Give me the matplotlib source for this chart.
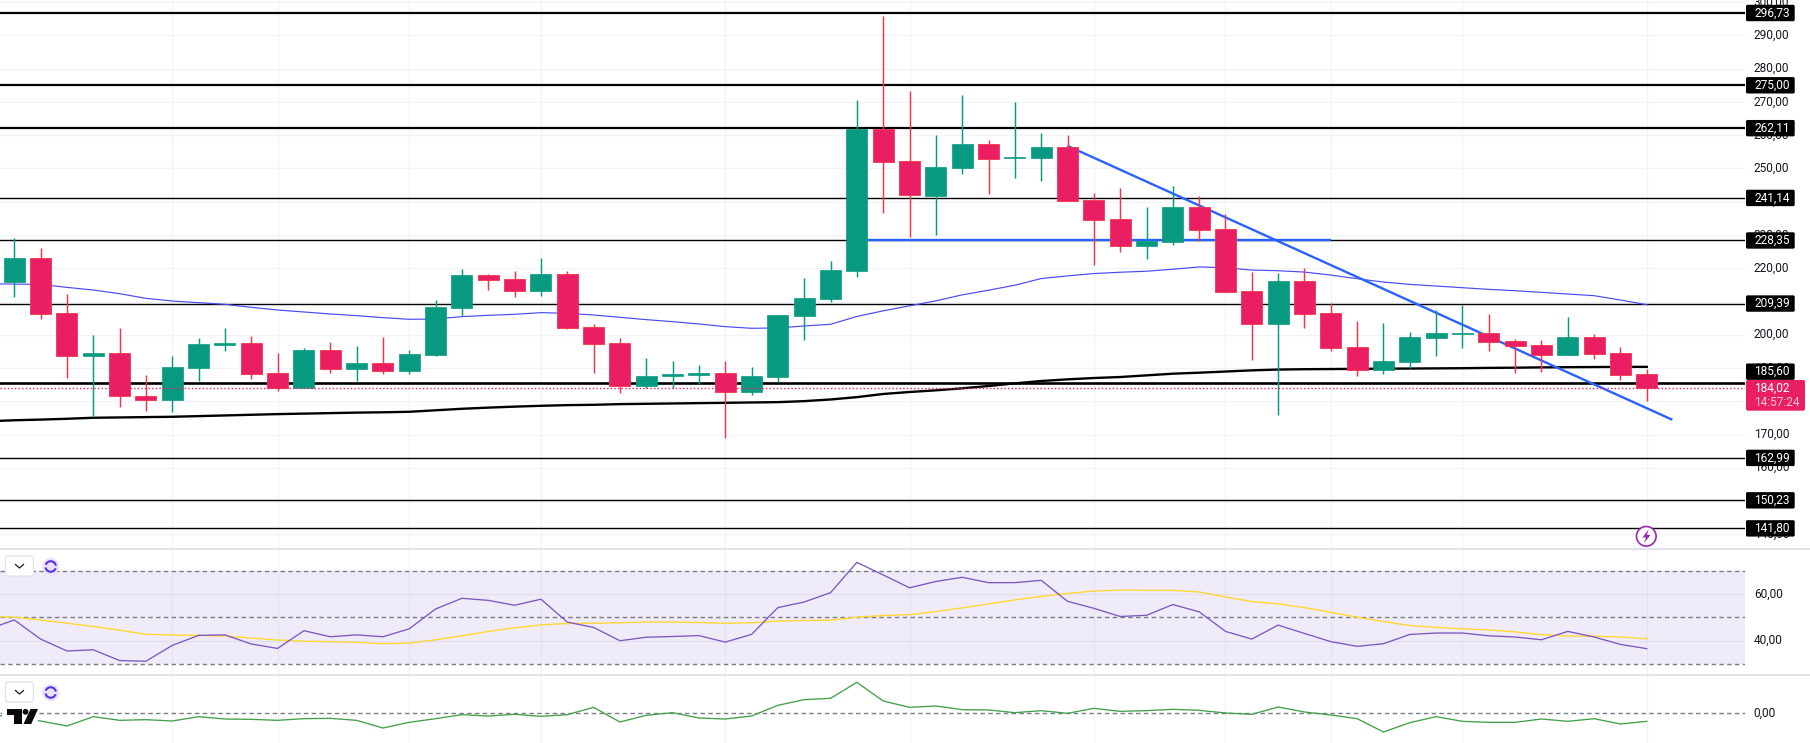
import numpy as np
import matplotlib
matplotlib.use("Agg")
import matplotlib.pyplot as plt
from matplotlib import font_manager as fm
from matplotlib.patches import FancyBboxPatch, Circle, Polygon, Arc
from matplotlib.lines import Line2D
from matplotlib.transforms import Affine2D, ScaledTranslation

names = {f.name for f in fm.fontManager.ttflist}
print('narrow available:', 'Liberation Sans Narrow' in names)
plt.rcParams['font.family'] = ['Liberation Sans Narrow', 'Roboto', 'DejaVu Sans'] if 'Liberation Sans Narrow' in names else ['Roboto', 'DejaVu Sans']
FS = 10.1 if 'Liberation Sans Narrow' in names else 8.6

opens = [215.85,223.05,206.45,193.75,194.45,181.65,180.45,190.05,197.0,197.55,188.55,184.05,195.45,189.75,191.55,189.15,194.0,208.05,217.95,216.75,213.15,218.25,202.35,
         197.55,184.75,187.75,188.05,188.55,182.65,187.35,205.65,210.75,219.15,
         261.8,252.2,241.7,250.1,257.3,253.2,253.1,256.4,240.5,234.7,226.6,227.8,238.35,
         231.75,213.15,203.25,216.15,206.55,196.35,189.45,191.85,199.05,200.35,200.55,198.15,196.95,193.95,199.35,194.55,188.25]
closes = [223.05,206.25,193.75,194.55,181.45,180.45,190.35,197.25,197.5,188.35,184.05,195.45,189.85,191.65,189.15,194.25,208.35,217.95,216.45,213.25,218.25,202.05,197.25,
          184.75,187.65,188.35,188.55,182.65,187.65,205.95,211.05,219.45,261.8,
          251.9,242.0,250.4,257.3,252.8,253.4,256.4,240.2,234.4,226.6,228.3,238.3,231.45,
          212.95,203.25,216.15,206.25,196.05,189.45,192.15,199.35,200.55,200.55,197.85,196.65,193.95,199.35,194.25,187.95,184.02]
highs = [229.05,226.05,212.25,199.95,202.05,187.95,193.65,199.05,202.05,199.65,194.55,196.05,197.85,196.65,199.35,195.45,210.45,219.75,218.25,219.15,223.05,219.15,203.25,
         199.05,193.05,192.15,190.95,192.15,190.35,205.95,217.05,222.15,270.55,
         295.8,273.3,260.0,272.0,258.5,269.95,260.6,260.0,242.6,244.1,238.3,244.7,241.7,
         236.25,218.85,218.55,220.05,209.45,204.15,203.55,200.85,207.45,208.95,206.25,198.75,198.45,205.35,200.25,196.35,189.75]
lows = [211.35,204.85,187.15,175.25,178.35,177.15,176.65,186.05,195.25,186.75,182.95,184.05,188.55,186.05,188.25,188.25,193.65,205.65,213.45,211.35,211.65,201.75,188.55,
        182.35,183.85,184.15,185.35,169.05,181.95,185.85,198.45,209.85,217.35,
        236.7,229.4,229.9,248.3,242.3,247.1,246.2,240.2,220.9,224.8,222.7,226.9,228.25,
        212.95,192.45,175.95,202.05,195.15,187.65,188.25,190.05,193.65,196.05,195.15,188.55,188.85,193.95,192.75,186.45,180.15]

ma_blue = [215.3,215.25,215.15,214.25,213.45,212.35,210.95,210.15,209.65,209.15,208.25,207.45,206.85,206.25,205.75,205.15,204.65,204.75,205.45,205.85,206.15,206.65,206.45,205.95,
           205.25,204.55,203.95,203.25,202.45,201.95,202.05,202.65,203.15,205.5,207.2,208.7,210.2,212.0,213.4,214.9,216.9,217.7,218.4,218.8,219.1,219.7,220.4,
           220.15,219.45,219.25,218.85,217.95,216.85,215.85,215.15,214.65,214.15,213.65,213.25,212.75,212.25,211.75,210.45,209.05]
ma_black = [174.0,174.3,174.5,174.75,175.05,175.15,175.25,175.35,175.55,175.75,175.95,176.15,176.3,176.45,176.6,176.7,176.85,177.3,177.75,178.1,178.4,178.65,178.85,178.95,
            179.15,179.25,179.35,179.45,179.55,179.65,179.75,180.05,180.55,181.25,182.2,182.8,183.3,183.9,184.6,185.4,186.1,186.6,187.0,187.3,187.8,188.3,188.6,
            188.95,189.3,189.55,189.65,189.7,189.75,189.8,189.85,189.9,189.95,190.05,190.1,190.2,190.25,190.3,190.35,190.35]
rsi = [44.9,48.9,40.7,35.6,36.1,31.5,31.2,38.0,42.3,42.5,38.6,36.7,44.3,41.7,42.5,41.7,45.1,53.6,58.2,57.3,55.2,57.8,48.0,45.7,40.0,41.5,41.8,42.2,39.4,42.7,54.2,56.6,60.6,73.6,68.2,
       62.7,65.4,67.2,64.9,64.9,65.9,56.9,53.9,50.4,50.9,55.5,52.4,44.0,40.7,46.7,43.1,39.6,37.6,38.7,42.7,43.3,43.3,42.1,41.6,40.4,44.0,41.6,38.4,36.6]
rsi_ma = [50.3,50.1,48.9,47.5,46.1,44.5,42.8,42.4,42.3,42.0,41.1,40.3,39.8,39.6,39.3,38.7,39.0,40.4,42.1,44.0,45.5,46.8,47.4,47.5,47.7,48.0,48.0,47.8,47.5,47.7,48.4,48.7,48.8,50.1,50.8,
          51.2,52.5,54.1,55.8,57.5,59.0,60.3,61.3,61.7,61.6,61.6,60.9,58.8,56.8,55.8,54.2,52.2,50.1,48.2,46.5,45.7,45.1,44.6,43.8,42.6,42.0,41.9,41.6,40.8]
osc = [-0.5,-1.0,-2.3,-3.8,-1.0,-2.1,-1.9,-2.3,-1.0,-1.7,-1.8,-2.1,-1.6,-1.5,-2.1,-4.4,-2.7,-1.6,-0.4,-0.8,-0.3,-0.9,-0.4,1.8,-2.6,-0.6,0.2,-1.4,-1.7,-0.8,2.4,4.1,4.5,9.3,3.7,
       1.8,2.2,1.1,1.0,0.2,0.8,0.0,1.5,0.6,0.8,1.2,0.9,0.1,-0.3,1.9,0.4,-0.5,-1.6,-5.6,-2.8,-1.0,-2.4,-2.7,-2.7,-1.7,-2.4,-1.6,-3.2,-2.4]

levels = [296.73,275.00,262.11,241.14,228.35,209.39,185.60,162.99,150.23,141.80]
level_labels = ['296,73','275,00','262,11','241,14','228,35','209,39','185,60','162,99','150,23','141,80']
level_thick = [1.6,1.6,1.6,1.0,1.0,1.0,1.9,1.0,1.0,1.0]
level_tag_shift_px = [0,0,0,0,0,0,-11,0,0,0]
last_price = 184.02
countdown = '14:57:24'
trend_x = [40, 62.97]
trend_y = [256.8, 174.45]
flat_x = [32.35, 50]
flat_y = [228.35, 228.35]
vgrid = [6,10,15,20,27,34,41,46,50,55,62]
price_ticks = list(range(140, 301, 10))
rsi_ticks = [40, 60]

W, H = 1810, 743
GREEN, RED_BODY, RED_LINE = '#089981', '#E91E63', '#F23645'
GRID = '#F0F3FA'
fig = plt.figure(figsize=(W/100, H/100), dpi=100, facecolor='white')
RIGHT = 1745/W
up_shift = ScaledTranslation(0, 1.6/100, fig.dpi_scale_trans)
def mk(top, bot):
    ax = fig.add_axes([0, 1-bot/H, RIGHT, (bot-top)/H])
    ax.set_xlim(-0.543, 65.73)
    for s in ax.spines.values():
        s.set_visible(False)
    ax.set_xticks([])
    ax.yaxis.tick_right()
    ax.tick_params(axis='y', length=0, pad=6.3, labelsize=FS, labelcolor='#131722')
    for v in vgrid:
        ax.axvline(v, color=GRID, lw=0.9, zorder=0)
    return ax
def lift(ax):
    for t in ax.get_yticklabels():
        t.set_transform(t.get_transform() + up_shift)
fmt = lambda v: f"{v:.2f}".replace('.', ',')

ax = mk(0, 549)
ax.set_ylim(135.6, 300.64)
ax.set_yticks(price_ticks)
ax.set_yticklabels([fmt(v) for v in price_ticks])
lift(ax)
for v in price_ticks:
    ax.axhline(v, color=GRID, lw=0.9, zorder=0)
for p, t in zip(levels, level_thick):
    ax.axhline(p, color='black', lw=t, zorder=1)
xm = np.arange(len(ma_blue)) - 1
ax.plot(xm, ma_blue, color='#4A4AF5', lw=0.85, zorder=2)
ax.plot(xm, ma_black, color='black', lw=1.7, zorder=2)
ax.plot(trend_x, trend_y, color='#2962FF', lw=1.7, zorder=2, solid_capstyle='butt')
ax.plot(flat_x, flat_y, color='#2962FF', lw=1.7, zorder=2, solid_capstyle='butt')

x = np.arange(len(opens))
o, c, hi, lo = map(np.array, (opens, closes, highs, lows))
up = c >= o
ax.vlines(x[up], lo[up], hi[up], color=GREEN, lw=1.05, zorder=3)
ax.vlines(x[~up], lo[~up], hi[~up], color=RED_LINE, lw=1.05, zorder=3)
ax.bar(x[up], (c-o)[up], bottom=o[up], width=0.80, color=GREEN, edgecolor=GREEN, lw=0.5, zorder=4)
ax.bar(x[~up], (c-o)[~up], bottom=o[~up], width=0.80, color=RED_BODY, edgecolor=RED_LINE, lw=0.6, zorder=4)
ax.axhline(last_price, color=RED_BODY, lw=1.0, ls=(0, (1, 1.6)), zorder=5)

ax2 = mk(550, 675)
ax2.set_ylim(25.3, 78.9)
ax2.set_yticks(rsi_ticks)
ax2.set_yticklabels([fmt(v) for v in rsi_ticks])
lift(ax2)
ax2.axhspan(30, 70, color='#7E57C2', alpha=0.115, lw=0, zorder=0.5)
for v in rsi_ticks:
    ax2.axhline(v, color='#E2DEEE', lw=0.9, zorder=0.6)
for v in [30, 50, 70]:
    ax2.axhline(v, color='#787B86', lw=1.0, ls=(0, (3.2, 2.4)), zorder=1)
ax2.plot(xm, rsi_ma, color='#FDD835', lw=1.0, zorder=2)
ax2.plot(xm, rsi, color='#7E57C2', lw=0.95, zorder=3)

ax3 = mk(676, 743)
ax3.set_ylim(-8.9, 11.2)
ax3.set_yticks([0])
ax3.set_yticklabels([fmt(0)])
lift(ax3)
ax3.axhline(0, color='#787B86', lw=1.0, ls=(0, (3.2, 2.4)), zorder=1)
ax3.plot(xm, osc, color='#43A047', lw=0.95, zorder=2)

# pixel-space overlays
px = Affine2D().scale(1/W, -1/H).translate(0, 1) + fig.transFigure
def add(a):
    a.set_transform(px)
    fig.add_artist(a)
    a.set_clip_on(False)
    return a
def rrect(x0, y0, x1, y1, fc, ec='none', lw=0, r=1.5, z=5):
    return add(FancyBboxPatch((x0+r, y0+r), x1-x0-2*r, y1-y0-2*r,
                              boxstyle=f"round,pad={r},rounding_size={r}",
                              fc=fc, ec=ec, lw=lw, zorder=z))
def ypix(a, v):
    return H - a.transData.transform((0, v))[1]

for p, lab, s in zip(levels, level_labels, level_tag_shift_px):
    yc = ypix(ax, p) + s
    rrect(1746, yc-8.2, 1794.7, yc+8.2, 'black')
    fig.text(1754/W, 1-yc/H, lab, color='white', fontsize=FS, va='center', ha='left', zorder=6)

rrect(1746, 380, 1805, 410.7, RED_BODY, r=2)
fig.text(1754/W, 1-388/H, fmt(last_price), color='white', fontsize=FS, va='center', zorder=6)
fig.text(1754/W, 1-402.5/H, countdown, color='#FBC6D8', fontsize=FS, va='center', zorder=6)

# dividers
for yy in (549, 675):
    add(Line2D([0, W], [yy, yy], color='#E0E3EB', lw=1.4, zorder=4))

# collapse buttons and refresh icons
for yb in (556, 682):
    rrect(5.5, yb, 33.5, yb+20, 'white', ec='#E0E3EB', lw=0.9, r=2.5)
    add(Line2D([15.5, 19.5, 23.5], [yb+8.5, yb+12, yb+8.5], color='#131722', lw=0.9, zorder=6))
    add(Circle((50.7, yb+10.5), 8.5, fc='#E9E2FC', ec='none', zorder=5))
    add(Arc((50.7, yb+10.5), 10.5, 10.5, theta1=200, theta2=350, color='#5B2EE8', lw=1.5, zorder=6))
    add(Arc((50.7, yb+10.5), 10.5, 10.5, theta1=20, theta2=170, color='#5B2EE8', lw=1.5, zorder=6))

# lightning badge
add(Circle((1646.3, 536.3), 9.8, fc='white', ec='#9C27B0', lw=1.2, zorder=5))
add(Polygon([(1648.5, 529.5), (1642.5, 537.5), (1646, 537.5), (1644, 543), (1650.5, 535), (1647, 535)],
            closed=True, fc='#9C27B0', ec='none', zorder=6))

# logo
rrect(2, 705, 38, 728, 'white', r=1, z=4)
add(Polygon([(7.3, 709), (21.5, 709), (21.5, 724), (13.5, 724), (13.5, 715), (7.3, 715)],
            closed=True, fc='#0A0A0A', ec='none', zorder=5))
add(Circle((25.5, 711.8), 2.9, fc='#0A0A0A', ec='none', zorder=5))
add(Polygon([(30.5, 709), (38, 709), (31.2, 724), (23.5, 724)], closed=True, fc='#0A0A0A', ec='none', zorder=5))

fig.savefig('out.png', dpi=100)
